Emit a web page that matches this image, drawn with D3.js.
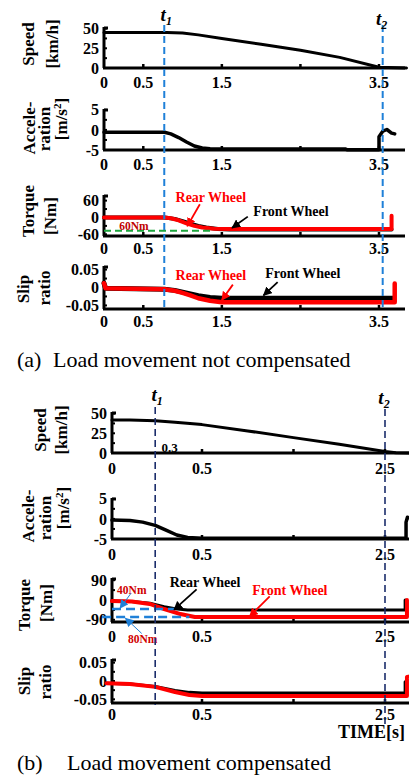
<!doctype html>
<html lang='en'>
<head>
<meta charset='UTF-8'>
<title>Load movement compensation</title>
<style>
    html, body { margin: 0; background: #fff; }
    svg { display: block; }
    text { font-family: "Liberation Serif", "Times New Roman", "DejaVu Serif", serif; fill: #000; }
</style>
</head>
<body>
<script src='https://d3js.org/d3.v7.min.js'></script>
<script>
    // ---------- (a) load movement not compensated ----------
    const ticksA = [0, 0.5, 1.5, 3.5];
    const tickMarksA = [0.5, 1.5, 2.5, 3.5];
    const eventsA = [0.767, 3.547];

    const speedA_t = [0, 0.8, 1.0, 1.2, 1.5, 2.0, 2.5, 3.0, 3.5, 3.85];
    const speedA_v = [45, 45, 44.5, 42, 37.5, 30, 22.5, 13.5, 1, 0];

    const accA_t = [0, 0.77, 0.85, 0.95, 1.05, 1.15, 1.25, 1.35, 1.5, 3.07, 3.1, 3.5, 3.5, 3.55, 3.6, 3.66, 3.7];
    const accA_v = [-0.6, -0.6, -1.0, -1.9, -3.0, -4.0, -4.5, -4.7, -4.75, -4.75, -4.95, -4.95, -1.7, -0.3, 0.1, -0.8, -1.0];

    const torqueFrontA_t = [0, 0.77, 0.9, 1.0, 1.1, 1.2, 1.3, 1.45, 1.6, 3.66];
    const torqueFrontA_v = [0, 0, -5, -13, -22, -30, -36, -41, -43, -43];
    const torqueRearA_t = [0, 0.77, 0.85, 0.95, 1.05, 1.15, 1.25, 1.4, 1.6, 3.66, 3.66];
    const torqueRearA_v = [0, 0, -3, -10, -21, -30, -36, -40, -41, -41, 6];
    const limitA = [-47]; // 60Nm line

    const slipFrontA_t = [0, 0.02, 0.77, 0.9, 1.0, 1.1, 1.2, 1.35, 1.5, 3.68];
    const slipFrontA_v = [0.012, -0.002, -0.005, -0.008, -0.013, -0.018, -0.023, -0.028, -0.03, -0.03];
    const slipRearA_t = [0, 0.02, 0.77, 0.9, 1.0, 1.1, 1.2, 1.35, 1.5, 3.7, 3.7];
    const slipRearA_v = [0.012, -0.002, -0.005, -0.009, -0.015, -0.022, -0.03, -0.037, -0.041, -0.041, 0.011];

    // ---------- (b) load movement compensated ----------
    const ticksB = [0, 0.5, 2.5];
    const tickMarksB = [0.5, 1.5, 2.5];
    const eventsB = [0.24, 2.5];

    const speedB_t = [0, 0.1, 0.24, 0.35, 0.5, 1.0, 1.5, 2.0, 2.5, 2.62, 2.76];
    const speedB_v = [42, 42, 41, 39, 36, 28, 19.5, 11, 2, 0.3, 0];

    const accB_t = [0, 0.1, 0.17, 0.24, 0.3, 0.36, 0.42, 0.5, 2.73, 2.73, 2.745, 2.76];
    const accB_v = [-0.3, -0.4, -0.8, -1.6, -2.8, -4.0, -4.6, -4.8, -4.8, -0.8, 0.4, 0.3];

    const torqueRearB_t = [0, 0.11, 0.21, 0.29, 0.35, 0.42, 2.72, 2.72];
    const torqueRearB_v = [-5, -7, -15, -30, -40, -45, -45, 0];
    const torqueFrontB_t = [0, 0.11, 0.21, 0.29, 0.38, 0.46, 2.74, 2.74];
    const torqueFrontB_v = [-5, -7, -18, -41, -64, -77, -77, 0];
    const limit40B_t = [0, 0.35];
    const limit80B_t = [-0.055, 0.43];
    const limitsB = [-41, -77]; // 40Nm, 80Nm

    const slipFrontB_t = [-0.03, 0.1, 0.24, 0.35, 0.43, 0.5, 2.72, 2.72];
    const slipFrontB_v = [-0.006, -0.008, -0.015, -0.026, -0.031, -0.033, -0.033, -0.002];
    const slipRearB_t = [-0.03, 0.1, 0.24, 0.35, 0.43, 0.5, 2.74, 2.74, 2.76];
    const slipRearB_v = [-0.006, -0.008, -0.016, -0.03, -0.038, -0.041, -0.041, 0.011, 0.012];

    const RED = '#ff0000';
    const BLUE = '#1f80d8';
    const NAVY = '#1b2d6b';
    const GREEN = '#1ea63e';

    const W = 409, H = 781;
    const svg = d3.select('body').append('svg')
        .attr('width', W)
        .attr('height', H);
    svg.append('rect').attr('width', W).attr('height', H).attr('fill', '#fff');

    const defs = svg.append('defs');
    [['k', '#000'], ['r', RED], ['b', BLUE]].forEach(([id, c]) => {
        defs.append('marker')
            .attr('id', 'arrow-' + id)
            .attr('viewBox', '0 0 10 10')
            .attr('refX', 9).attr('refY', 5)
            .attr('markerWidth', 9).attr('markerHeight', 9)
            .attr('markerUnits', 'userSpaceOnUse')
            .attr('orient', 'auto')
            .append('path')
            .attr('d', 'M0,0L10,5L0,10z')
            .attr('fill', c);
    });

    const xA = d3.scaleLinear().domain([0, 3.5]).range([104, 379]);
    const xB = d3.scaleLinear().domain([0, 0.5, 2.5]).range([112, 202, 385]);

    const line = (x, y) => d3.line().x((d) => x(d[0])).y((d) => y(d[1]));

    function drawPanel(p) {
        const g = svg.append('g');
        const {x, y} = p;
        const [yb, yt] = y.range();
        const x0 = x(0);

        // x axis line and small upward ticks
        g.append('line')
            .attr('x1', x0 - 1).attr('x2', p.xEnd)
            .attr('y1', yb).attr('y2', yb)
            .attr('stroke', '#000').attr('stroke-width', 3);
        g.selectAll('.xt').data(p.tickMarks).join('line')
            .attr('x1', (d) => x(d)).attr('x2', (d) => x(d))
            .attr('y1', yb).attr('y2', yb - 4)
            .attr('stroke', '#000').attr('stroke-width', 2.5);

        // y axis with major and minor ticks
        g.append('line')
            .attr('x1', x0).attr('x2', x0)
            .attr('y1', yt).attr('y2', yb)
            .attr('stroke', '#000').attr('stroke-width', 3);
        g.selectAll('.ym').data(p.yMinor).join('line')
            .attr('x1', x0).attr('x2', x0 + 3)
            .attr('y1', (d) => y(d)).attr('y2', (d) => y(d))
            .attr('stroke', '#000').attr('stroke-width', 2);
        g.append('line')
            .attr('x1', x0).attr('x2', x0 + 4)
            .attr('y1', yt + 1).attr('y2', yt + 1)
            .attr('stroke', '#000').attr('stroke-width', 3);

        g.selectAll('.yl').data(p.yTicks).join('text')
            .attr('x', x0 - 5).attr('y', (d) => y(d))
            .attr('dy', '0.35em')
            .attr('text-anchor', 'end')
            .attr('font-size', 16).attr('font-weight', 'bold')
            .text((d) => String(d));

        g.selectAll('.xl').data(p.xTicks).join('text')
            .attr('x', (d) => x(d)).attr('y', yb + p.labelGap)
            .attr('text-anchor', 'middle')
            .attr('font-size', 16).attr('font-weight', 'bold')
            .text((d) => String(d));

        // axis title, rotated
        p.title.forEach((t) => {
            const txt = g.append('text')
                .attr('transform', `translate(${t.bx},${t.cy}) rotate(-90)`)
                .attr('text-anchor', 'middle')
                .attr('font-size', 17).attr('font-weight', 'bold');
            if (t.sup) {
                txt.append('tspan').text(t.s);
                txt.append('tspan').attr('dy', -6).attr('font-size', 11).text(t.sup);
                txt.append('tspan').attr('dy', 6).text(t.after);
            } else {
                txt.text(t.s);
            }
        });

        // data series
        p.series.forEach((s) => {
            g.append('path')
                .datum(d3.zip(s.t, s.v))
                .attr('d', line(x, y))
                .attr('fill', 'none')
                .attr('stroke', s.color)
                .attr('stroke-width', s.width)
                .attr('stroke-dasharray', s.dash || null)
                .attr('stroke-linejoin', 'round')
                .attr('stroke-linecap', s.dash ? 'butt' : 'round');
        });

        // annotations
        (p.notes || []).forEach((n) => {
            g.append('text')
                .attr('x', x(n.at[0])).attr('y', y(n.at[1]))
                .attr('dy', '0.35em')
                .attr('text-anchor', 'middle')
                .attr('font-size', n.size || 14).attr('font-weight', 'bold')
                .style('fill', n.color)
                .text(n.text);
            if (n.from) {
                g.append('line')
                    .attr('x1', x(n.from[0])).attr('y1', y(n.from[1]))
                    .attr('x2', x(n.to[0])).attr('y2', y(n.to[1]))
                    .attr('stroke', n.arrowColor || n.color)
                    .attr('stroke-width', n.arrowWidth || 1.8)
                    .attr('marker-end', `url(#arrow-${n.marker})`);
            }
        });
    }

    const yMinorOf = (lo, hi, step) => d3.range(lo, hi + step / 2, step);

    // ---- panel (a) ----
    const panelsA = [
        {
            y: d3.scaleLinear().domain([0, 52]).range([68, 27]), labelGap: 20,
            yTicks: [0, 25, 50], yMinor: yMinorOf(0, 50, 12.5),
            title: [{s: 'Speed', bx: 34, cy: 44}, {s: '[km/h]', bx: 58, cy: 44}],
            series: [{t: speedA_t, v: speedA_v, color: '#000', width: 3}]
        },
        {
            y: d3.scaleLinear().domain([-5, 5.2]).range([150, 109]), labelGap: 20,
            yTicks: [-5, 0, 5], yMinor: yMinorOf(-5, 5, 2.5),
            title: [{s: 'Accele-', bx: 35, cy: 128}, {s: 'ration', bx: 50, cy: 129},
                {s: '[m/s', sup: '2', after: ']', bx: 67, cy: 119}],
            series: [{t: accA_t, v: accA_v, color: '#000', width: 3.5}]
        },
        {
            y: d3.scaleLinear().domain([-66, 80]).range([236, 195]), labelGap: 18,
            yTicks: [-60, 0, 60], yMinor: yMinorOf(-60, 60, 30),
            title: [{s: 'Torque', bx: 34, cy: 211}, {s: '[Nm]', bx: 56, cy: 216}],
            series: [
                {t: torqueFrontA_t, v: torqueFrontA_v, color: '#000', width: 4},
                {t: torqueRearA_t, v: torqueRearA_v, color: RED, width: 4},
                {t: [0, 1.39], v: [limitA[0], limitA[0]], color: GREEN, width: 2, dash: '7,4'}
            ],
            notes: [
                {text: 'Rear Wheel', color: RED, marker: 'r', at: [1.36, 73], from: [1.22, 47], to: [1.06, -31]},
                {text: 'Front Wheel', color: '#000', marker: 'k', at: [2.38, 23], from: [1.83, 3], to: [1.63, -37]},
                {text: '60Nm', color: '#c00000', size: 11.5, at: [0.38, -29]}
            ]
        },
        {
            y: d3.scaleLinear().domain([-0.06, 0.06]).range([309, 266]), labelGap: 18,
            yTicks: [-0.05, 0, 0.05], yMinor: yMinorOf(-0.05, 0.05, 0.025),
            title: [{s: 'Slip', bx: 29, cy: 289}, {s: 'ratio', bx: 50, cy: 288}],
            series: [
                {t: slipFrontA_t, v: slipFrontA_v, color: '#000', width: 5},
                {t: slipRearA_t, v: slipRearA_v, color: RED, width: 4.5}
            ],
            notes: [
                {text: 'Rear Wheel', color: RED, marker: 'r', at: [1.36, 0.036], from: [1.64, 0.008], to: [1.5, -0.035]},
                {text: 'Front Wheel', color: '#000', marker: 'k', at: [2.53, 0.04], from: [2.21, 0.015], to: [2.03, -0.022]}
            ]
        }
    ];
    panelsA.forEach((p) => drawPanel(Object.assign(p, {
        x: xA, xEnd: 405, xTicks: ticksA, tickMarks: tickMarksA
    })));

    // ---- panel (b) ----
    const panelsB = [
        {
            y: d3.scaleLinear().domain([0, 52]).range([453, 412]), labelGap: 21,
            yTicks: [0, 25, 50], yMinor: yMinorOf(0, 50, 12.5),
            title: [{s: 'Speed', bx: 46, cy: 430}, {s: '[km/h]', bx: 67, cy: 430}],
            series: [{t: speedB_t, v: speedB_v, color: '#000', width: 3}],
            notes: [{text: '0.3', color: '#000', size: 13, at: [0.32, 7.5]}]
        },
        {
            y: d3.scaleLinear().domain([-5, 5.2]).range([539, 498]), labelGap: 21,
            yTicks: [-5, 0, 5], yMinor: yMinorOf(-5, 5, 2.5),
            title: [{s: 'Accele-', bx: 34, cy: 516}, {s: 'ration', bx: 51, cy: 518},
                {s: '[m/s', sup: '2', after: ']', bx: 69, cy: 508}],
            series: [{t: accB_t, v: accB_v, color: '#000', width: 3.5}]
        },
        {
            y: d3.scaleLinear().domain([-100, 100]).range([622, 578]), labelGap: 20,
            yTicks: [-90, 0, 90], yMinor: yMinorOf(-90, 90, 45),
            title: [{s: 'Torque', bx: 30, cy: 605}, {s: '[Nm]', bx: 52, cy: 603}],
            series: [
                {t: torqueRearB_t, v: torqueRearB_v, color: '#000', width: 3},
                {t: torqueFrontB_t, v: torqueFrontB_v, color: RED, width: 4},
                {t: limit40B_t, v: [limitsB[0], limitsB[0]], color: BLUE, width: 2.5, dash: '9,5'},
                {t: limit80B_t, v: [limitsB[1], limitsB[1]], color: BLUE, width: 2.5, dash: '9,5'}
            ],
            notes: [
                {text: '40Nm', color: '#d00000', size: 11.5, at: [0.11, 46], from: [0.105, 30], to: [0.045, -37], arrowColor: BLUE, arrowWidth: 1, marker: 'b'},
                {text: '80Nm', color: '#d00000', size: 11.5, at: [0.17, -177], from: [0.165, -152], to: [0.075, -83], arrowColor: BLUE, arrowWidth: 1, marker: 'b'},
                {text: 'Rear Wheel', color: '#000', marker: 'k', at: [0.533, 82], from: [0.47, 48], to: [0.345, -44]},
                {text: 'Front Wheel', color: RED, marker: 'r', at: [1.46, 45], from: [1.24, 16], to: [1.02, -75]}
            ]
        },
        {
            y: d3.scaleLinear().domain([-0.06, 0.06]).range([703, 659]), labelGap: 17,
            yTicks: [-0.05, 0, 0.05], yMinor: yMinorOf(-0.05, 0.05, 0.025),
            title: [{s: 'Slip', bx: 30, cy: 681}, {s: 'ratio', bx: 51, cy: 682}],
            series: [
                {t: slipFrontB_t, v: slipFrontB_v, color: '#000', width: 3},
                {t: slipRearB_t, v: slipRearB_v, color: RED, width: 4}
            ]
        }
    ];
    panelsB.forEach((p) => drawPanel(Object.assign(p, {
        x: xB, xEnd: 409, xTicks: ticksB, tickMarks: tickMarksB
    })));

    // ---- event markers t1, t2 ----
    function drawEvents(x, events, color, width, spans, labelY) {
        events.forEach((e, i) => {
            svg.append('line')
                .attr('x1', x(e)).attr('x2', x(e))
                .attr('y1', spans[i][0]).attr('y2', spans[i][1])
                .attr('stroke', color).attr('stroke-width', width)
                .attr('stroke-dasharray', '7,4');
            const t = svg.append('text')
                .attr('x', x(e) + (i === 0 ? 2 : -1)).attr('y', labelY[i])
                .attr('text-anchor', 'middle')
                .attr('font-size', 19).attr('font-weight', 'bold').attr('font-style', 'italic');
            t.append('tspan').text('t');
            t.append('tspan').attr('dy', 4).attr('font-size', 12).text(String(i + 1));
        });
    }
    drawEvents(xA, eventsA, BLUE, 2, [[25, 310], [25, 310]], [21, 25]);
    drawEvents(xB, eventsB, NAVY, 1.6, [[407, 705], [409, 724]], [401, 404]);

    // ---- captions ----
    svg.append('text').attr('x', 338).attr('y', 738)
        .attr('font-size', 18).attr('font-weight', 'bold').text('TIME[s]');

    svg.append('text').attr('x', 17).attr('y', 367).attr('font-size', 22).text('(a)');
    svg.append('text').attr('x', 53).attr('y', 367).attr('font-size', 22).text('Load movement not compensated');
    svg.append('text').attr('x', 17).attr('y', 770).attr('font-size', 22).text('(b)');
    svg.append('text').attr('x', 67).attr('y', 770).attr('font-size', 22).text('Load movement compensated');
</script>
</body>
</html>
